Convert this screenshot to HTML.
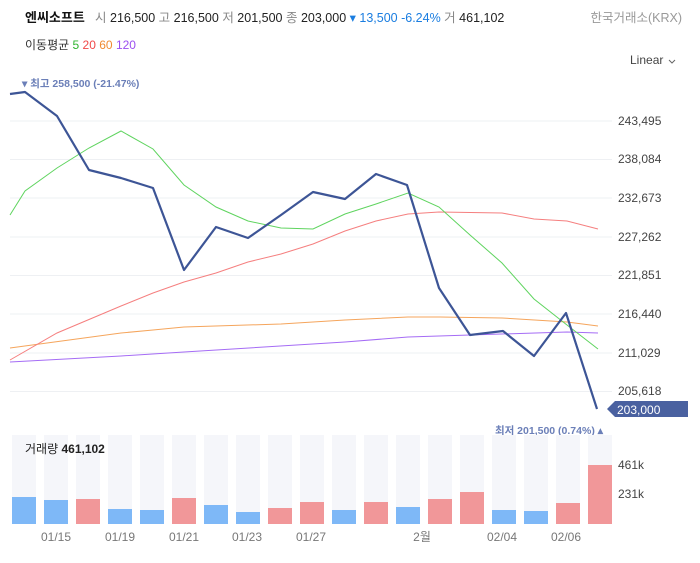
<!DOCTYPE html>
<html><head><meta charset="utf-8"><style>
body{margin:0;background:#fff;width:700px;height:558px;overflow:hidden;font-family:"Liberation Sans","Noto Sans CJK KR",sans-serif}
svg text{font-family:"Liberation Sans","Noto Sans CJK KR",sans-serif}
</style></head><body>
<svg width="700" height="558" viewBox="0 0 700 558" xmlns="http://www.w3.org/2000/svg">
<text x="25" y="22" font-size="13" font-weight="bold" fill="#111">엔씨소프트</text>
<text x="95" y="22" font-size="12.5" fill="#222"><tspan fill="#888">시</tspan> 216,500 <tspan fill="#888">고</tspan> 216,500 <tspan fill="#888">저</tspan> 201,500 <tspan fill="#888">종</tspan> 203,000 <tspan fill="#1a7de0">▾ 13,500 -6.24%</tspan> <tspan fill="#888">거</tspan> 461,102</text>
<text x="682" y="22" font-size="12.5" fill="#999" text-anchor="end">한국거래소(KRX)</text>
<text x="25" y="49" font-size="12" fill="#333">이동평균 <tspan fill="#2fb52f">5</tspan> <tspan fill="#f04848">20</tspan> <tspan fill="#f08a30">60</tspan> <tspan fill="#9b4ff0">120</tspan></text>
<text x="630" y="64" font-size="12" fill="#444">Linear</text>
<path d="M669 60l3 3 3-3" stroke="#666" fill="none"/>
<text x="22" y="87" font-size="10.5" fill="#6b7fb8" font-weight="bold">▾ 최고 258,500 (-21.47%)</text>
<g stroke="#eef0f3" stroke-width="1">
<line x1="10" x2="612" y1="121" y2="121"/><line x1="10" x2="612" y1="159.5" y2="159.5"/><line x1="10" x2="612" y1="198" y2="198"/><line x1="10" x2="612" y1="237" y2="237"/><line x1="10" x2="612" y1="275.5" y2="275.5"/><line x1="10" x2="612" y1="314" y2="314"/><line x1="10" x2="612" y1="353" y2="353"/><line x1="10" x2="612" y1="391.5" y2="391.5"/>
</g>
<g font-size="12" fill="#444">
<text x="618" y="125">243,495</text><text x="618" y="163">238,084</text><text x="618" y="202">232,673</text><text x="618" y="241">227,262</text><text x="618" y="279">221,851</text><text x="618" y="318">216,440</text><text x="618" y="357">211,029</text><text x="618" y="395">205,618</text>
</g>
<g fill="none" stroke-width="1">
<polyline stroke="#a56cf5" points="10,362 121,356 184,352 345,342 408,337 470,335 567,332 598,333"/>
<polyline stroke="#f5a55c" points="10,348 121,333 153,330 184,327 281,324 345,320 408,317 440,317 502,318 567,322 598,326"/>
<polyline stroke="#f57f7f" points="10,360 57,333 121,306 153,293 184,282 216,273 248,262 281,254 313,244 345,231 376,221 408,214 439,212 502,213 534,219 567,221 598,229"/>
<polyline stroke="#5fd45f" points="10,215 25,191 57,168 89,148 121,131 153,149 184,185 216,207 248,221 281,228 313,229 345,214 376,204 408,193 439,207 470,235 502,263 534,299 567,325 598,349"/>
<polyline stroke="#3d5596" stroke-width="2.2" stroke-linejoin="round" points="10,94 25,92 57,116 89,170 121,178 153,188 184,270 216,227 248,238 281,215 313,192 345,199 376,174 407,185 439,288 470,335 503,331 534,356 566,313 597,409"/>
</g>
<path d="M607 409l8-8h73v16h-73z" fill="#4a61a0"/>
<text x="617" y="414" font-size="12" fill="#fff">203,000</text>
<text x="603" y="434" font-size="10.5" fill="#6b7fb8" font-weight="bold" text-anchor="end">최저 201,500 (0.74%) ▴</text>
<g fill="#f5f6fa">
<rect x="12" y="435" width="24" height="89"/><rect x="44" y="435" width="24" height="89"/><rect x="76" y="435" width="24" height="89"/><rect x="108" y="435" width="24" height="89"/><rect x="140" y="435" width="24" height="89"/><rect x="172" y="435" width="24" height="89"/><rect x="204" y="435" width="24" height="89"/><rect x="236" y="435" width="24" height="89"/><rect x="268" y="435" width="24" height="89"/><rect x="300" y="435" width="24" height="89"/><rect x="332" y="435" width="24" height="89"/><rect x="364" y="435" width="24" height="89"/><rect x="396" y="435" width="24" height="89"/><rect x="428" y="435" width="24" height="89"/><rect x="460" y="435" width="24" height="89"/><rect x="492" y="435" width="24" height="89"/><rect x="524" y="435" width="24" height="89"/><rect x="556" y="435" width="24" height="89"/><rect x="588" y="435" width="24" height="89"/>
</g>
<g fill="#7eb8f7" stroke="#b9d8fa" stroke-width="0">
<rect x="12" y="497" width="24" height="27"/><rect x="44" y="500" width="24" height="24"/><rect x="108" y="509" width="24" height="15"/><rect x="140" y="510" width="24" height="14"/><rect x="204" y="505" width="24" height="19"/><rect x="236" y="512" width="24" height="12"/><rect x="332" y="510" width="24" height="14"/><rect x="396" y="507" width="24" height="17"/><rect x="492" y="510" width="24" height="14"/><rect x="524" y="511" width="24" height="13"/>
</g>
<g fill="#f19799">
<rect x="76" y="499" width="24" height="25"/><rect x="172" y="498" width="24" height="26"/><rect x="268" y="508" width="24" height="16"/><rect x="300" y="502" width="24" height="22"/><rect x="364" y="502" width="24" height="22"/><rect x="428" y="499" width="24" height="25"/><rect x="460" y="492" width="24" height="32"/><rect x="556" y="503" width="24" height="21"/><rect x="588" y="465" width="24" height="59"/>
</g>
<text x="25" y="453" font-size="12" fill="#222">거래량 <tspan font-weight="bold">461,102</tspan></text>
<text x="618" y="469" font-size="12" fill="#444">461k</text>
<text x="618" y="498" font-size="12" fill="#444">231k</text>
<g font-size="12" fill="#777" text-anchor="middle">
<text x="56" y="541">01/15</text><text x="120" y="541">01/19</text><text x="184" y="541">01/21</text><text x="247" y="541">01/23</text><text x="311" y="541">01/27</text><text x="422" y="541">2월</text><text x="502" y="541">02/04</text><text x="566" y="541">02/06</text>
</g>
</svg>
</body></html>
